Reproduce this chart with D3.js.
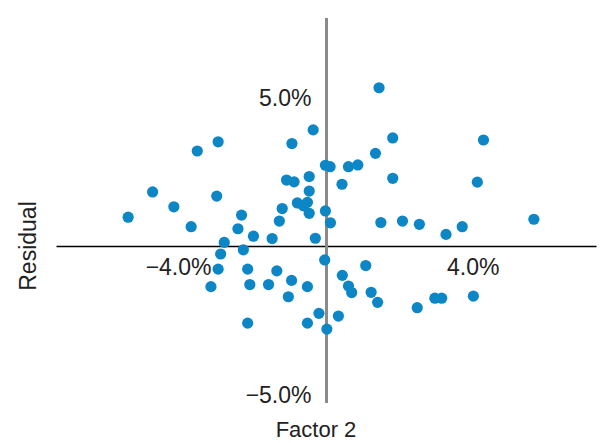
<!DOCTYPE html>
<html><head><meta charset="utf-8">
<script src="https://cdn.jsdelivr.net/npm/d3@7"></script>
<style>html,body{margin:0;padding:0;background:#fff;}svg{display:block;}</style>
</head><body>
<script>
const factor2 = [-0.37,-3.01,-3.59,-0.96,-0.03,0.10,-0.48,-1.11,-0.90,-4.83,-3.05,-4.24,-0.48,-0.81,-0.53,-0.64,-1.23,-0.03,1.46,1.84,4.36,1.36,0.61,0.87,0.43,1.84,4.19,-5.51,-3.76,-2.36,-0.48,0.11,-1.31,-2.46,-2.03,-1.51,-0.31,-2.84,-2.31,-2.94,-0.05,-3.01,-2.19,-1.38,-0.97,-2.13,-1.61,-0.53,-3.21,-1.06,-0.21,-2.19,-0.53,0.01,1.51,2.11,2.58,3.32,3.77,5.76,1.09,0.44,0.61,0.70,1.24,1.42,2.52,3.01,3.20,4.08,0.33];
const residual = [3.93,3.53,3.22,3.47,2.74,2.69,2.36,2.24,2.18,1.84,1.70,1.34,1.87,1.47,1.49,1.37,1.28,1.20,5.35,3.66,3.59,3.14,2.69,2.75,2.10,2.30,2.17,0.99,0.67,1.06,1.12,0.80,0.86,0.60,0.35,0.27,0.28,0.14,-0.11,-0.25,-0.45,-0.76,-0.76,-0.82,-1.14,-1.28,-1.28,-1.35,-1.35,-1.69,-2.25,-2.58,-2.58,-2.78,0.81,0.86,0.75,0.41,0.67,0.92,-0.64,-0.97,-1.33,-1.55,-1.54,-1.88,-2.06,-1.74,-1.74,-1.67,-2.34];
const xTicks = [-4, 4];
const xTickLabels = ["\u22124.0%", "4.0%"];
const yTicks = [5, -5];
const yTickLabels = ["5.0%", "\u22125.0%"];
const xTitle = "Factor 2";
const yTitle = "Residual";

const W = 602, H = 443;
const svg = d3.select("body").append("svg").attr("width", W).attr("height", H);
const x = d3.scaleLinear().domain([-7.5, 7.5]).range([56.5, 596.5]);
const y = d3.scaleLinear().domain([-5.27, 7.7]).range([403, 18]);
const font = "'Liberation Sans', Arial, sans-serif";

// horizontal axis
svg.append("line").attr("x1", x(-7.5)).attr("x2", x(7.5)).attr("y1", y(0)).attr("y2", y(0))
  .attr("stroke", "#000").attr("stroke-width", 1.5);
// vertical axis
svg.append("line").attr("x1", x(0)).attr("x2", x(0)).attr("y1", y(7.7)).attr("y2", y(-5.27))
  .attr("stroke", "#8a8a8a").attr("stroke-width", 3);

// x tick labels
svg.selectAll(".xt").data(xTicks).enter().append("text")
  .attr("x", d => x(d) + 29).attr("y", y(0) + 28)
  .attr("text-anchor", "end").attr("font-family", font).attr("font-size", 23).attr("fill", "#222")
  .text((d, i) => xTickLabels[i]);
// y tick labels
svg.selectAll(".yt").data(yTicks).enter().append("text")
  .attr("x", x(0) - 15).attr("y", d => y(d) + 8)
  .attr("text-anchor", "end").attr("font-family", font).attr("font-size", 23).attr("fill", "#222")
  .text((d, i) => yTickLabels[i]);

// titles
svg.append("text").attr("x", 316).attr("y", 437).attr("text-anchor", "middle")
  .attr("font-family", font).attr("font-size", 22).attr("fill", "#222").text(xTitle);
svg.append("text").attr("transform", "translate(36,246) rotate(-90)").attr("text-anchor", "middle")
  .attr("font-family", font).attr("font-size", 23).attr("fill", "#222").text(yTitle);

// points
svg.selectAll("circle").data(factor2.map((v, i) => [v, residual[i]])).enter().append("circle")
  .attr("cx", d => x(d[0])).attr("cy", d => y(d[1])).attr("r", 5.6).attr("fill", "#0d86c6");
</script>
</body></html>
